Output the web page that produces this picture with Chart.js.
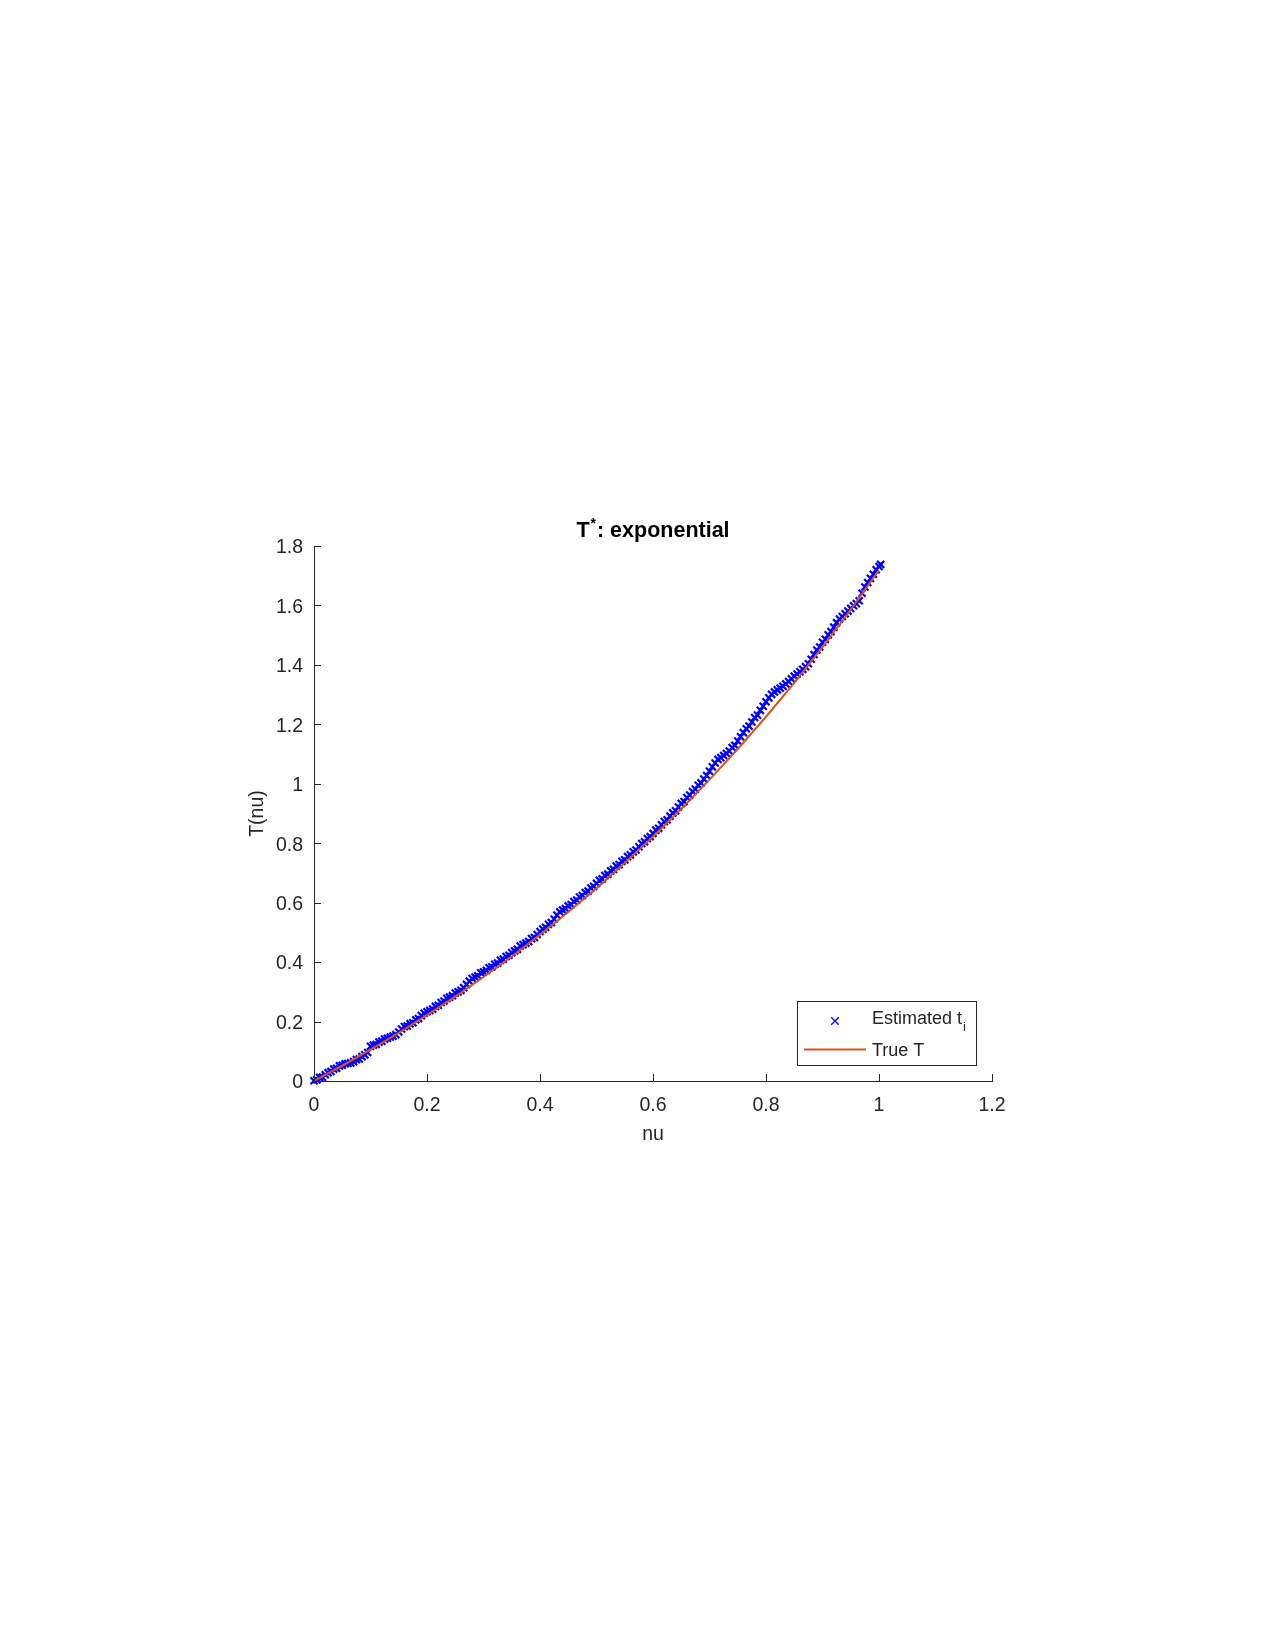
<!DOCTYPE html>
<html>
<head>
<meta charset="utf-8">
<script src="https://cdn.jsdelivr.net/npm/chart.js@4.4.0/dist/chart.umd.min.js"></script>
<style>
  html, body { margin: 0; padding: 0; background: #fff; }
  canvas { display: block; }
</style>
</head>
<body>
<canvas id="chart" width="1275" height="1650"></canvas>
<script>
// true curve
const nuTrue = [0, 0.05, 0.1, 0.15, 0.2, 0.25, 0.3, 0.35, 0.4, 0.45, 0.5,
  0.55, 0.6, 0.65, 0.7, 0.75, 0.8, 0.85, 0.9, 0.95, 1];
const tTrue = [0, 0.0513, 0.1052, 0.1618, 0.2214, 0.284, 0.3499, 0.4191, 0.4918, 0.5683, 0.6487,
  0.7333, 0.8221, 0.9155, 1.0138, 1.117, 1.2255, 1.3397, 1.4596, 1.5857, 1.7183];

// estimated t_i (blue crosses)
const nuEst = [
  0, 0.005, 0.01, 0.015, 0.02, 0.025, 0.03, 0.035, 0.04, 0.045,
  0.05, 0.055, 0.06, 0.065, 0.07, 0.075, 0.08, 0.085, 0.09, 0.095,
  0.1, 0.105, 0.11, 0.115, 0.12, 0.125, 0.13, 0.135, 0.14, 0.145,
  0.15, 0.155, 0.16, 0.165, 0.17, 0.175, 0.18, 0.185, 0.19, 0.195,
  0.2, 0.205, 0.21, 0.215, 0.22, 0.225, 0.23, 0.235, 0.24, 0.245,
  0.25, 0.255, 0.26, 0.265, 0.27, 0.275, 0.28, 0.285, 0.29, 0.295,
  0.3, 0.305, 0.31, 0.315, 0.32, 0.325, 0.33, 0.335, 0.34, 0.345,
  0.35, 0.355, 0.36, 0.365, 0.37, 0.375, 0.38, 0.385, 0.39, 0.395,
  0.4, 0.405, 0.41, 0.415, 0.42, 0.425, 0.43, 0.435, 0.44, 0.445,
  0.45, 0.455, 0.46, 0.465, 0.47, 0.475, 0.48, 0.485, 0.49, 0.495,
  0.5, 0.505, 0.51, 0.515, 0.52, 0.525, 0.53, 0.535, 0.54, 0.545,
  0.55, 0.555, 0.56, 0.565, 0.57, 0.575, 0.58, 0.585, 0.59, 0.595,
  0.6, 0.605, 0.61, 0.615, 0.62, 0.625, 0.63, 0.635, 0.64, 0.645,
  0.65, 0.655, 0.66, 0.665, 0.67, 0.675, 0.68, 0.685, 0.69, 0.695,
  0.7, 0.705, 0.71, 0.715, 0.72, 0.725, 0.73, 0.735, 0.74, 0.745,
  0.75, 0.755, 0.76, 0.765, 0.77, 0.775, 0.78, 0.785, 0.79, 0.795,
  0.8, 0.805, 0.81, 0.815, 0.82, 0.825, 0.83, 0.835, 0.84, 0.845,
  0.85, 0.855, 0.86, 0.865, 0.87, 0.875, 0.88, 0.885, 0.89, 0.895,
  0.9, 0.905, 0.91, 0.915, 0.92, 0.925, 0.93, 0.935, 0.94, 0.945,
  0.95, 0.955, 0.96, 0.965, 0.97, 0.975, 0.98, 0.985, 0.99, 0.995,
  1, 1.003
];
const tEst = [
  0.001, 0.004, 0.012, 0.013, 0.021, 0.028, 0.032, 0.040, 0.043, 0.051,
  0.053, 0.058, 0.059, 0.061, 0.065, 0.072, 0.074, 0.082, 0.088, 0.096,
  0.117, 0.121, 0.123, 0.131, 0.134, 0.141, 0.144, 0.148, 0.151, 0.156,
  0.165, 0.175, 0.183, 0.185, 0.193, 0.196, 0.206, 0.210, 0.220, 0.228,
  0.233, 0.237, 0.242, 0.251, 0.255, 0.264, 0.269, 0.278, 0.282, 0.287,
  0.296, 0.300, 0.305, 0.314, 0.325, 0.336, 0.345, 0.350, 0.354, 0.364,
  0.367, 0.372, 0.381, 0.384, 0.393, 0.397, 0.406, 0.410, 0.419, 0.423,
  0.432, 0.438, 0.443, 0.454, 0.459, 0.464, 0.469, 0.479, 0.483, 0.493,
  0.503, 0.511, 0.517, 0.527, 0.533, 0.545, 0.558, 0.569, 0.575, 0.580,
  0.589, 0.594, 0.604, 0.609, 0.619, 0.624, 0.634, 0.639, 0.649, 0.655,
  0.665, 0.675, 0.680, 0.691, 0.696, 0.707, 0.712, 0.723, 0.728, 0.739,
  0.744, 0.755, 0.761, 0.771, 0.777, 0.788, 0.799, 0.805, 0.816, 0.822,
  0.833, 0.844, 0.850, 0.862, 0.873, 0.879, 0.891, 0.902, 0.909, 0.922,
  0.934, 0.940, 0.954, 0.962, 0.974, 0.982, 0.995, 1.003, 1.016, 1.028,
  1.042, 1.057, 1.070, 1.082, 1.088, 1.095, 1.102, 1.110, 1.122, 1.129,
  1.144, 1.158, 1.172, 1.185, 1.194, 1.208, 1.223, 1.231, 1.247, 1.261,
  1.276, 1.289, 1.301, 1.309, 1.316, 1.322, 1.328, 1.336, 1.344, 1.353,
  1.362, 1.369, 1.377, 1.385, 1.394, 1.404, 1.419, 1.435, 1.450, 1.460,
  1.476, 1.486, 1.501, 1.512, 1.527, 1.542, 1.554, 1.563, 1.572, 1.581,
  1.590, 1.599, 1.606, 1.616, 1.641, 1.662, 1.677, 1.691, 1.705, 1.720,
  1.731, 1.738
];

const xTicks = [0, 0.2, 0.4, 0.6, 0.8, 1, 1.2];
const xTickLabels = ['0', '0.2', '0.4', '0.6', '0.8', '1', '1.2'];
const yTicks = [0, 0.2, 0.4, 0.6, 0.8, 1, 1.2, 1.4, 1.6, 1.8];
const yTickLabels = ['0', '0.2', '0.4', '0.6', '0.8', '1', '1.2', '1.4', '1.6', '1.8'];

const AXIS = '#262626';
const BLUE = '#0000FF';
const ORANGE = '#D95319';
const FONT = '"Liberation Sans", Arial, Helvetica, sans-serif';

function drawCross(ctx, x, y, r) {
  ctx.beginPath();
  ctx.moveTo(x - r, y - r); ctx.lineTo(x + r, y + r);
  ctx.moveTo(x - r, y + r); ctx.lineTo(x + r, y - r);
  ctx.stroke();
}

// matlab-ish extras: inward ticks, title, axis labels, legend
const decor = {
  id: 'decor',
  afterDraw(chart) {
    const ctx = chart.ctx;
    const area = chart.chartArea;
    const xs = chart.scales.x, ys = chart.scales.y;
    ctx.save();

    ctx.strokeStyle = AXIS;
    ctx.lineWidth = 1;
    xTicks.forEach(v => {
      const px = Math.round(xs.getPixelForValue(v)) + 0.5;
      ctx.beginPath();
      ctx.moveTo(px, area.bottom);
      ctx.lineTo(px, area.bottom - 7);
      ctx.stroke();
    });
    yTicks.forEach(v => {
      const py = Math.round(ys.getPixelForValue(v)) + 0.5;
      ctx.beginPath();
      ctx.moveTo(area.left, py);
      ctx.lineTo(area.left + 7, py);
      ctx.stroke();
    });

    // title  T^*: exponential
    const cx = (area.left + area.right) / 2;
    ctx.fillStyle = '#000';
    ctx.textBaseline = 'alphabetic';
    ctx.textAlign = 'left';
    ctx.font = 'bold 21.5px ' + FONT;
    const wT = ctx.measureText('T').width;
    const wRest = ctx.measureText(': exponential').width;
    ctx.font = 'bold 14px ' + FONT;
    const wStar = ctx.measureText('*').width + 2;
    let tx = cx - (wT + wStar + wRest) / 2;
    const ty = area.top - 9;
    ctx.font = 'bold 21.5px ' + FONT;
    ctx.fillText('T', tx, ty);
    ctx.font = 'bold 14px ' + FONT;
    ctx.fillText('*', tx + wT + 1, ty - 9);
    ctx.font = 'bold 21.5px ' + FONT;
    ctx.fillText(': exponential', tx + wT + wStar, ty);

    // axis labels
    ctx.fillStyle = AXIS;
    ctx.font = '19.5px ' + FONT;
    ctx.textAlign = 'center';
    ctx.textBaseline = 'middle';
    ctx.fillText('nu', cx, area.bottom + 54);
    ctx.save();
    ctx.translate(area.left - 56, (area.top + area.bottom) / 2);
    ctx.rotate(-Math.PI / 2);
    ctx.fillText('T(nu)', 0, 0);
    ctx.restore();

    // legend box in lower right
    const lr = area.right - 16, lb = area.bottom - 16;
    const lw = 179, lh = 64;
    const lx = lr - lw, ly = lb - lh;
    ctx.fillStyle = '#fff';
    ctx.fillRect(lx, ly, lw, lh);
    ctx.strokeStyle = AXIS;
    ctx.lineWidth = 1;
    ctx.strokeRect(Math.round(lx) + 0.5, Math.round(ly) + 0.5, lw, lh);

    ctx.strokeStyle = BLUE;
    ctx.lineWidth = 1.3;
    drawCross(ctx, lx + 38, ly + 20, 3.8);
    ctx.strokeStyle = ORANGE;
    ctx.lineWidth = 2;
    ctx.beginPath();
    ctx.moveTo(lx + 7, ly + 48.5);
    ctx.lineTo(lx + 69, ly + 48.5);
    ctx.stroke();

    ctx.fillStyle = AXIS;
    ctx.textAlign = 'left';
    ctx.textBaseline = 'alphabetic';
    ctx.font = '18px ' + FONT;
    ctx.fillText('Estimated t', lx + 75, ly + 23);
    const wEst = ctx.measureText('Estimated t').width;
    ctx.font = '13px ' + FONT;
    ctx.fillText('i', lx + 75 + wEst + 1, ly + 30);
    ctx.font = '18px ' + FONT;
    ctx.fillText('True T', lx + 75, ly + 55);

    ctx.restore();
  }
};

const tickFont = { family: FONT, size: 19.5 };

new Chart(document.getElementById('chart'), {
  type: 'scatter',
  data: {
    datasets: [{
      label: 'True T',
      data: nuTrue.map((x, i) => ({ x: x, y: tTrue[i] })),
      showLine: true,
      borderColor: ORANGE,
      borderWidth: 2,
      pointRadius: 0,
      fill: false,
      order: 0
    }, {
      label: 'Estimated t_i',
      data: nuEst.map((x, i) => ({ x: x, y: tEst[i] })),
      pointStyle: 'crossRot',
      pointRadius: 5,
      borderColor: BLUE,
      backgroundColor: BLUE,
      borderWidth: 2.2,
      clip: false,
      order: 1
    }]
  },
  options: {
    responsive: false,
    animation: false,
    events: [],
    layout: {
      padding: { left: 0, top: 546, right: 283, bottom: 0 }
    },
    plugins: {
      legend: { display: false },
      title: { display: false },
      tooltip: { enabled: false }
    },
    scales: {
      x: {
        type: 'linear',
        min: 0,
        max: 1.2,
        grid: { display: false, drawTicks: false },
        border: { display: true, color: AXIS, width: 1 },
        afterBuildTicks: (scale) => { scale.ticks = xTicks.map(v => ({ value: v })); },
        afterFit: (scale) => { scale.height = 569; },
        ticks: {
          padding: 13,
          color: AXIS,
          font: tickFont,
          maxRotation: 0,
          callback: (value, index) => xTickLabels[index]
        }
      },
      y: {
        type: 'linear',
        min: 0,
        max: 1.8,
        grid: { display: false, drawTicks: false },
        border: { display: true, color: AXIS, width: 1 },
        afterBuildTicks: (scale) => { scale.ticks = yTicks.map(v => ({ value: v })); },
        afterFit: (scale) => { scale.width = 314; },
        ticks: {
          padding: 11,
          labelOffset: 2,
          color: AXIS,
          font: tickFont,
          callback: (value, index) => yTickLabels[index]
        }
      }
    }
  },
  plugins: [decor]
});
</script>
</body>
</html>
